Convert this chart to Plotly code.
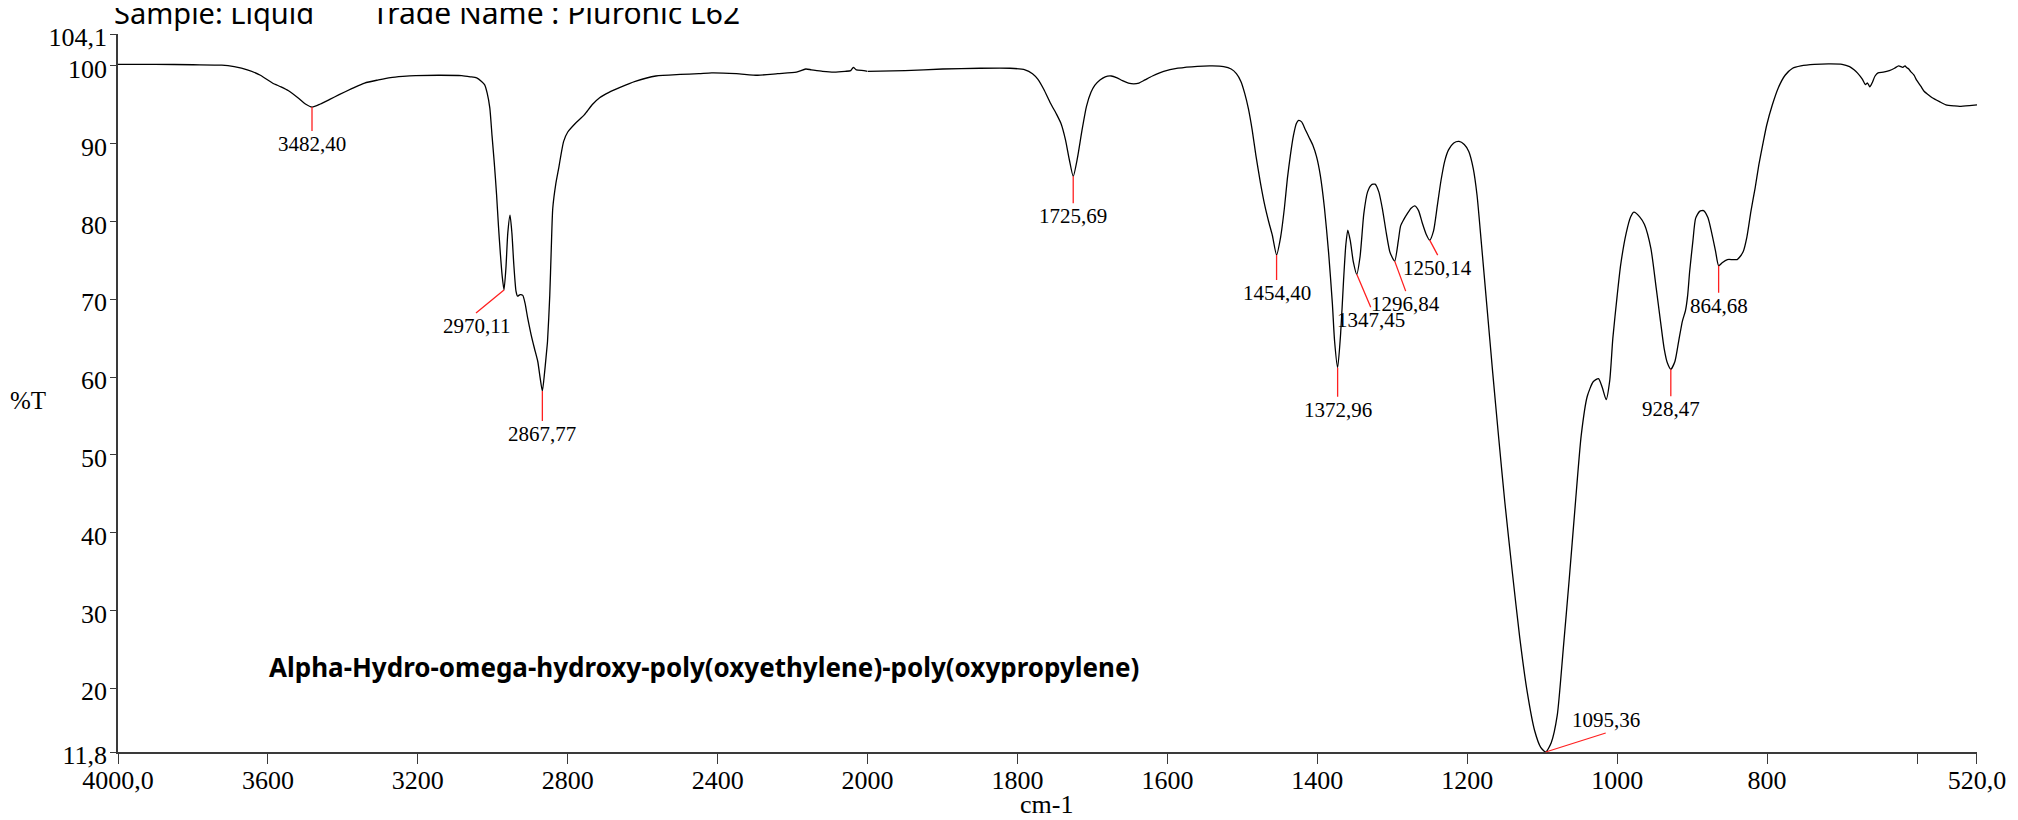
import plotly.graph_objects as go

# ---------------- data ----------------
wavenumber = [
    4000, 3900, 3800, 3723, 3690, 3655, 3620, 3588, 3565, 3545, 3520, 3500, 3482.40,
    3460, 3435, 3410, 3375, 3342, 3305, 3273, 3240, 3206, 3140, 3083, 3060, 3043,
    3030, 3022, 3015, 3008, 3002, 2996, 2990, 2985, 2980, 2975, 2970.11, 2965, 2960,
    2954, 2949, 2944, 2938, 2934, 2927, 2920, 2914, 2907, 2898, 2889, 2880, 2874,
    2867.77, 2862, 2858, 2854, 2848, 2844, 2840, 2832, 2824, 2818, 2811, 2800, 2780,
    2756, 2735, 2715, 2690, 2662, 2620, 2565, 2500, 2450, 2416, 2350, 2293, 2240,
    2190, 2165, 2150, 2120, 2090, 2060, 2045, 2038, 2030, 2010, 2000,
    1950, 1900, 1850, 1810, 1790, 1780, 1773, 1765, 1756, 1748, 1742, 1736, 1731,
    1725.69, 1720, 1714, 1708, 1702, 1697, 1690, 1683, 1675, 1668, 1660, 1652, 1645,
    1638, 1630, 1620, 1605, 1586, 1560, 1540, 1525, 1515, 1508, 1502, 1497, 1492,
    1487, 1482, 1476, 1470, 1465, 1460, 1454.40, 1449, 1444, 1440, 1436, 1432, 1428,
    1425, 1421, 1416, 1411, 1406, 1401, 1396, 1390.5, 1385, 1380, 1377, 1372.96, 1369,
    1365, 1362, 1359.4, 1356, 1352, 1347.45, 1343, 1338, 1333, 1328, 1323, 1318, 1313,
    1308, 1303, 1296.84, 1292, 1289, 1285, 1280, 1275, 1270, 1265, 1260, 1255,
    1250.14, 1245, 1240, 1235, 1230, 1225, 1218, 1211, 1204, 1198, 1192, 1187, 1181,
    1174, 1166, 1158, 1150, 1140, 1130, 1120, 1110, 1102, 1095.36, 1088, 1080, 1072,
    1064, 1056, 1048, 1040, 1032, 1025, 1020, 1014.7, 1010, 1005.8, 1000, 995.4, 988,
    982, 977.8, 970, 963.6, 955, 947.9, 942, 937.4, 933, 928.47, 923, 918, 913, 909,
    906, 903.3, 899, 895.4, 890, 884.8, 879, 874.3, 869, 864.68, 860, 853, 846, 840,
    836, 832, 827, 821.6, 816, 811, 805, 800.5, 793, 785, 776, 766, 755, 737, 715,
    700, 690, 684, 679.6, 673, 669, 666, 663, 660, 656, 652, 645, 637, 630, 624.5,
    619, 616, 614, 611, 608.7, 604, 600.8, 595, 590.3, 585, 579.7, 570, 561.5, 550,
    543, 530, 520,
]
transmittance = [
    100.2, 100.2, 100.15, 100.1, 99.9, 99.5, 98.8, 97.8, 97.3, 96.8, 95.9, 95.1, 94.7,
    95.1, 95.7, 96.3, 97.1, 97.8, 98.2, 98.5, 98.65, 98.75, 98.8, 98.75, 98.6, 98.45,
    98.0, 97.6, 96.5, 94.6, 91.0, 87.5, 83.5, 79.5, 76.0, 73.0, 71.2, 74.0, 78.5,
    80.8, 78.5, 74.5, 71.0, 70.4, 70.6, 70.5, 69.5, 67.6, 65.5, 63.7, 62.0, 60.0,
    58.2, 60.5, 62.5, 64.6, 70.5, 76.5, 81.7, 84.8, 86.9, 88.6, 90.3, 91.5, 92.6,
    93.7, 95.0, 95.9, 96.6, 97.2, 98.0, 98.7, 98.9, 99.0, 99.1, 99.0, 98.8, 99.0,
    99.2, 99.6, 99.5, 99.3, 99.2, 99.3, 99.4, 99.8, 99.5, 99.4, 99.3,
    99.4, 99.6, 99.7, 99.7, 99.5, 99.0, 98.3, 97.0, 95.2, 93.8, 92.6, 90.5, 88.0,
    85.8, 88.2, 91.7, 94.8, 96.6, 97.5, 98.2, 98.6, 98.7, 98.5, 98.1, 97.8, 97.7,
    97.8, 98.2, 98.7, 99.3, 99.7, 99.95, 100.0, 99.9, 99.6, 99.0, 98.0, 96.5, 94.5,
    91.8, 88.5, 85.0, 82.0, 80.0, 78.2, 75.7, 78.0, 81.7, 85.5, 88.5, 91.0, 92.6,
    93.0, 92.8, 91.8, 90.8, 89.8, 88.3, 85.9, 81.7, 76.0, 69.5, 64.6, 61.2, 65.5,
    72.5, 77.0, 78.9, 77.5, 74.8, 73.2, 75.5, 81.0, 83.8, 84.7, 84.8, 83.8, 81.5,
    78.5, 76.0, 74.9, 77.5, 79.4, 80.2, 81.0, 81.7, 82.0, 81.4, 79.8, 78.4,
    77.6, 78.8, 82.0, 85.3, 87.8, 89.2, 90.1, 90.3, 89.9, 89.0, 86.8, 83.4, 77.0,
    69.3, 60.5, 52.1, 44.0, 35.0, 26.5, 19.5, 14.5, 12.4, 11.8, 13.0, 16.5, 25.0,
    34.0, 43.5, 52.5, 57.5, 59.4, 59.8, 58.7, 57.1, 59.5, 65.0, 70.5, 74.4, 78.5,
    80.6, 81.2, 80.6, 79.6, 76.5, 71.4, 67.0, 63.7, 61.8, 61.0, 62.0, 64.6, 67.2, 68.5,
    70.5, 73.6, 77.5, 80.4, 81.3, 81.4, 80.5, 78.7, 76.3, 74.3, 74.7, 75.1, 75.1, 75.1,
    75.5, 76.1, 78.0, 81.3, 84.3, 87.3, 90.3, 92.4, 95.0, 97.2, 98.8, 99.7, 100.0, 100.2, 100.25,
    100.2, 99.9, 99.5, 99.1, 98.3, 97.6, 97.8, 97.3, 97.8, 98.7, 99.1, 99.2, 99.4, 99.7, 100.0,
    99.8, 100.0, 99.8, 99.6, 99.3, 98.8, 98.2, 97.4, 96.7, 96.3, 95.9, 95.4, 95.0, 94.85,
    94.8, 94.9, 95.0,
]

peak_wn = [3482.40, 2970.11, 2867.77, 1725.69, 1454.40, 1372.96, 1347.45, 1296.84,
           1250.14, 1095.36, 928.47, 864.68]
peak_T = [94.7, 71.2, 58.2, 85.8, 75.7, 61.2, 73.2, 74.9, 77.6, 11.8, 61.0, 74.3]
peak_labels = ["3482,40", "2970,11", "2867,77", "1725,69", "1454,40", "1372,96",
               "1347,45", "1296,84", "1250,14", "1095,36", "928,47", "864,68"]

x_ticks_high = [4000, 3600, 3200, 2800, 2400, 2000]
x_ticktext_high = ["4000,0", "3600", "3200", "2800", "2400", "2000"]
x_ticks_low = [1800, 1600, 1400, 1200, 1000, 800, 600, 520]
x_ticktext_low = ["1800", "1600", "1400", "1200", "1000", "800", "", "520,0"]
y_ticks = [104.1, 100, 90, 80, 70, 60, 50, 40, 30, 20, 11.8]
y_ticktext = ["104,1", "100", "90", "80", "70", "60", "50", "40", "30", "20", "11,8"]

title_left = "Sample: Liquid"
title_right = "Trade Name : Pluronic L62"
compound = "Alpha-Hydro-omega-hydroxy-poly(oxyethylene)-poly(oxypropylene)"

# label placement offsets in pixels (ax, ay, yanchor)
label_offsets = [(0, 24, "top"), (-28, 23, "top"), (0, 30, "top"), (0, 27, "top"),
                 (0, 25, "top"), (0, 29, "top"), (14, 33, "top"), (11, 30, "top"),
                 (8, 15, "top"), (60, -19, "bottom"), (0, 27, "top"), (0, 27, "top")]

# ---------------- figure ----------------
SERIF = "Liberation Serif"
SANS = "Noto Sans"
AXC = "#3a3a3a"

hi_x = [w for w in wavenumber if w >= 2000]
hi_y = [t for w, t in zip(wavenumber, transmittance) if w >= 2000]
lo_x = [w for w in wavenumber if w <= 2000]
lo_y = [t for w, t in zip(wavenumber, transmittance) if w <= 2000]

fig = go.Figure()
line_style = dict(color="black", width=1.3, shape="spline", smoothing=0.6)
fig.add_trace(go.Scatter(x=hi_x, y=hi_y, mode="lines", line=line_style,
                         xaxis="x", yaxis="y", showlegend=False, hoverinfo="skip"))
fig.add_trace(go.Scatter(x=lo_x, y=lo_y, mode="lines", line=line_style,
                         xaxis="x2", yaxis="y", showlegend=False, hoverinfo="skip"))

split = 2000.0 / (2000.0 + 2 * (2000.0 - 520.0))

xcommon = dict(ticks="outside", ticklen=10, tickwidth=1.3, tickcolor=AXC,
               showline=True, linecolor=AXC, linewidth=1.6, showgrid=False,
               zeroline=False, tickfont=dict(family=SERIF, size=26, color="black"),
               anchor="y", ticklabelstandoff=-6)

annotations = []
for wn, t, txt, (ax, ay, ya) in zip(peak_wn, peak_T, peak_labels, label_offsets):
    annotations.append(dict(
        x=wn, y=t, xref="x" if wn >= 2000 else "x2", yref="y",
        text=txt, showarrow=True, arrowhead=0, arrowwidth=1.3, arrowcolor="#ff2020",
        ax=ax, ay=ay, xanchor="center", yanchor=ya, standoff=0, startstandoff=0,
        font=dict(family=SERIF, size=21, color="black"), borderpad=0))

annotations += [
    dict(text=compound, xref="paper", yref="paper", x=0.0802, y=0.1184,
         xanchor="left", yanchor="middle", showarrow=False,
         font=dict(family=SANS, size=26, color="black", weight="bold")),
    dict(text="%T", xref="paper", yref="paper", x=-0.0484, y=0.4889,
         xanchor="center", yanchor="middle", showarrow=False,
         font=dict(family=SERIF, size=25, color="black")),
    dict(text="cm-1", xref="paper", yref="paper", x=0.4992, y=-0.0738,
         xanchor="center", yanchor="middle", showarrow=False,
         font=dict(family=SERIF, size=26, color="black")),
    dict(text=title_left, xref="paper", yref="paper", x=-0.0032, y=1.030,
         xanchor="left", yanchor="middle", showarrow=False,
         font=dict(family=SANS, size=29, color="black")),
    dict(text=title_right, xref="paper", yref="paper", x=0.1356, y=1.030,
         xanchor="left", yanchor="middle", showarrow=False,
         font=dict(family=SANS, size=30, color="black")),
]

fig.update_layout(
    width=2018, height=820,
    margin=dict(l=110, r=49, t=26, b=76, pad=0),
    paper_bgcolor="white", plot_bgcolor="white",
    xaxis=dict(domain=[0, split], range=[4000, 2000], tickvals=x_ticks_high,
               ticktext=x_ticktext_high, **xcommon),
    xaxis2=dict(domain=[split, 1], range=[2000, 520], tickvals=x_ticks_low,
                ticktext=x_ticktext_low, **xcommon),
    yaxis=dict(range=[11.8, 104.1], tickvals=y_ticks, ticktext=y_ticktext,
               ticks="outside", ticklen=6, tickwidth=1.3, tickcolor=AXC,
               showline=True, linecolor=AXC, linewidth=1.6, showgrid=False,
               zeroline=False, anchor="x", ticklabelshift=3, ticklabelstandoff=-2,
               tickfont=dict(family=SERIF, size=26, color="black")),
    annotations=annotations,
    showlegend=False,
)

fig.write_html("out.html")
